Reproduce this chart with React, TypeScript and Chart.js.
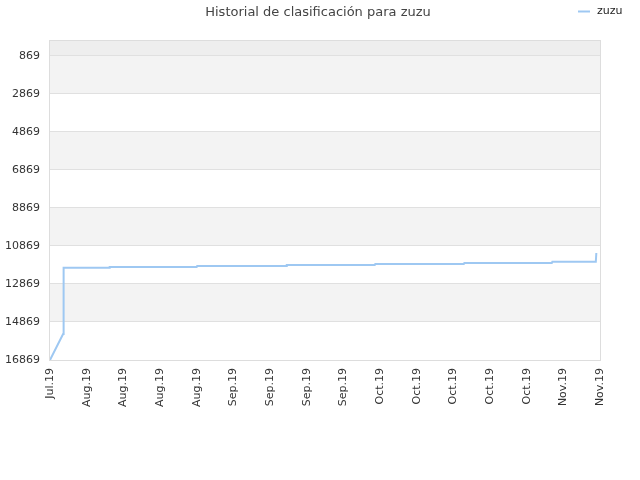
import React, { useEffect, useRef } from 'react';
import { Chart, registerables } from 'chart.js';

Chart.register(...registerables);

// días desde el 31 de julio de 2019
const dayOffsets = [0, 2.5, 2.6, 11.3, 11.4, 28, 28.1, 45.1, 45.2, 62, 62.1, 79, 79.1, 95.8, 95.9, 104.2, 104.3];
const ranks = [16869, 15500, 12011, 12011, 11974, 11974, 11922, 11922, 11869, 11869, 11816, 11816, 11764, 11764, 11695, 11695, 11237];

const tickLabels = ['Jul.19', 'Aug.19', 'Aug.19', 'Aug.19', 'Aug.19', 'Sep.19', 'Sep.19', 'Sep.19', 'Sep.19',
  'Oct.19', 'Oct.19', 'Oct.19', 'Oct.19', 'Oct.19', 'Nov.19', 'Nov.19'];
const yTicks = [869, 2869, 4869, 6869, 8869, 10869, 12869, 14869, 16869];

const title = 'Historial de clasificación para zuzu';
const seriesName = 'zuzu';
const lineColor = '#9ec8f2';
const font = "'DejaVu Sans', sans-serif";

// franjas de fondo y borde del área
const bands = {
  id: 'bands',
  beforeDraw(chart: any) {
    const { ctx, chartArea: a, scales } = chart;
    const y = scales.y;
    ctx.save();
    ctx.fillStyle = '#eeeeee';
    ctx.fillRect(a.left, a.top, a.width, y.getPixelForValue(yTicks[0]) - a.top);
    for (let i = 0; i < yTicks.length - 1; i++) {
      if (i % 2 === 0) {
        const t = y.getPixelForValue(yTicks[i]);
        const b = y.getPixelForValue(yTicks[i + 1]);
        ctx.fillStyle = '#f3f3f3';
        ctx.fillRect(a.left, t, a.width, b - t);
      }
    }
    ctx.restore();
  },
  afterDraw(chart: any) {
    const { ctx, chartArea: a } = chart;
    ctx.save();
    ctx.strokeStyle = '#dddddd';
    ctx.lineWidth = 1;
    ctx.strokeRect(a.left - 0.5, a.top + 0.5, a.width + 1, a.height);
    ctx.restore();
  },
};

// título y leyenda en la misma línea
const header = {
  id: 'header',
  afterDraw(chart: any) {
    const { ctx } = chart;
    ctx.save();
    ctx.textBaseline = 'middle';
    ctx.textAlign = 'center';
    ctx.fillStyle = '#444';
    ctx.font = `13px ${font}`;
    ctx.fillText(title, 318, 13);
    ctx.strokeStyle = lineColor;
    ctx.lineWidth = 2;
    ctx.beginPath();
    ctx.moveTo(578, 11.5);
    ctx.lineTo(590, 11.5);
    ctx.stroke();
    ctx.textAlign = 'left';
    ctx.fillStyle = '#222';
    ctx.font = `11px ${font}`;
    ctx.fillText(seriesName, 597, 11);
    ctx.restore();
  },
};

const App = () => {
  const canvasRef: any = useRef<HTMLCanvasElement>(null);

  useEffect(() => {
    const ctx = canvasRef.current.getContext('2d');
    const config: any = {
      type: 'line',
      data: {
        datasets: [{
          label: seriesName,
          data: dayOffsets.map((d, i) => ({ x: d, y: ranks[i] })),
          borderColor: lineColor,
          borderWidth: 2,
          pointRadius: 0,
          tension: 0,
          fill: false,
        }],
      },
      options: {
        responsive: false,
        animation: false,
        layout: { padding: { top: 40, right: 40, left: 0, bottom: 0 } },
        plugins: {
          legend: { display: false },
          title: { display: false },
          tooltip: { enabled: false },
        },
        scales: {
          x: {
            type: 'linear',
            min: 0,
            max: 105,
            afterBuildTicks: (s: any) => { s.ticks = tickLabels.map((_, i) => ({ value: i * 7 })); },
            afterFit: (s: any) => { s.height = 120; },
            grid: { display: false, drawTicks: false },
            border: { display: false },
            ticks: {
              autoSkip: false,
              minRotation: 90,
              maxRotation: 90,
              padding: 8,
              color: '#333',
              font: { family: font, size: 11 },
              callback: (_v: any, i: number) => tickLabels[i],
            },
          },
          y: {
            type: 'linear',
            reverse: true,
            min: 27,
            max: 16869,
            afterBuildTicks: (s: any) => { s.ticks = yTicks.map(v => ({ value: v })); },
            afterFit: (s: any) => { s.width = 50; },
            grid: { color: '#e0e0e0', drawTicks: false },
            border: { display: false },
            ticks: {
              padding: 10,
              color: '#333',
              font: { family: font, size: 11 },
              callback: (v: any) => String(v),
            },
          },
        },
      },
      plugins: [bands, header],
    };
    const chart = new Chart(ctx, config);
    return () => {
      chart.destroy();
    };
  }, []);

  return <div style={{ position: 'absolute', left: 0, top: 0, width: '640px', height: '480px', background: '#fff' }}>
    <canvas ref={canvasRef} width={640} height={480} style={{ width: '640px', height: '480px' }}></canvas>
  </div>;
};

export default App;
